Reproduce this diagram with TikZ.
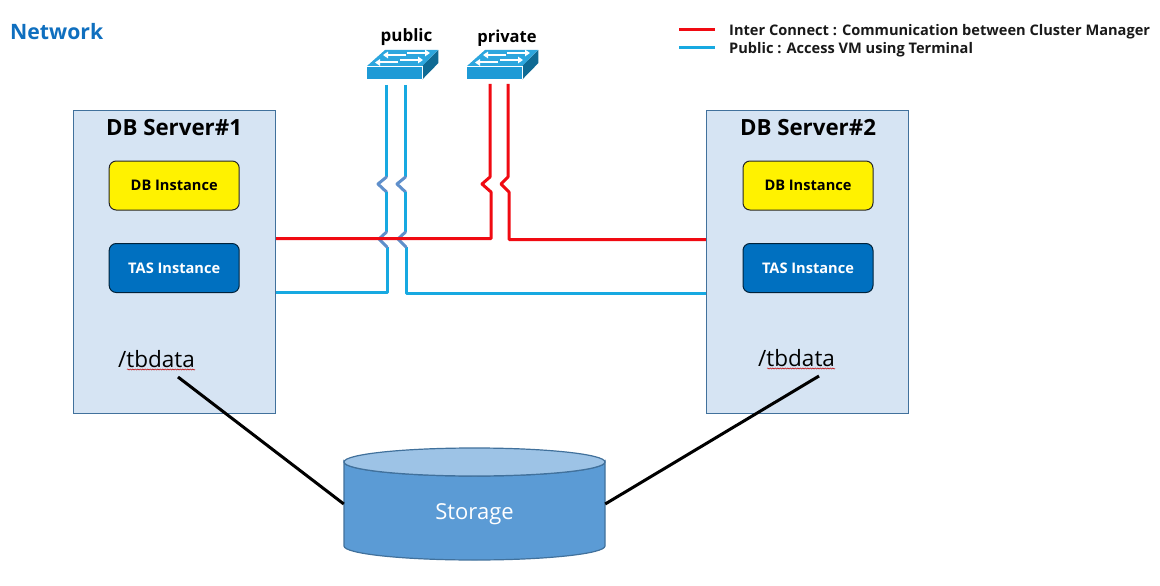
\documentclass[tikz,border=0pt]{standalone}
\usepackage{fontspec}
\setmainfont{Open Sans}
\usetikzlibrary{arrows.meta,decorations.pathmorphing}
\definecolor{srvfill}{HTML}{D6E4F3}
\definecolor{srvline}{HTML}{41719C}
\definecolor{netblue}{HTML}{0F6FBF}
\definecolor{wireblue}{HTML}{17A9E1}
\definecolor{jogblue}{HTML}{5F8FCB}
\definecolor{wirered}{HTML}{F00A12}
\definecolor{tasblue}{HTML}{0070C0}
\definecolor{cylbody}{HTML}{5B9BD5}
\definecolor{cyltop}{HTML}{9DC3E6}
\definecolor{swfront}{HTML}{1E9AD6}
\definecolor{swtop}{HTML}{2CA6DE}
\definecolor{swside}{HTML}{0F6A94}
\newcommand{\fs}[1]{\fontsize{#1}{#1}\selectfont}
\tikzset{
  server/.style={draw=srvline,fill=srvfill,line width=1.4pt,minimum width=202pt,minimum height=303pt,inner sep=0pt},
  srvtitle/.style={font=\fs{22.3}\bfseries,inner sep=0pt,anchor=center},
  inst/.style={draw=black!85,rounded corners=7pt,line width=1pt,minimum width=130pt,minimum height=49pt,inner sep=0pt,font=\fs{14.6}\bfseries},
  dbinst/.style={inst,fill=yellow,text=black},
  tasinst/.style={inst,fill=tasblue,text=white,draw=black!70!tasblue},
  swlabel/.style={font=\fs{17}\bfseries,inner sep=0pt},
  swfrontst/.style={fill=swfront,draw=none,minimum width=55pt,minimum height=13pt,inner sep=0pt},
  legend/.style={font=\fs{14.6}\bfseries,anchor=west,inner sep=0pt,text=black!90},
  bluew/.style={draw=wireblue,line width=3pt,line join=round},
  jogw/.style={draw=jogblue,line width=3pt,line join=round,line cap=round},
  redw/.style={draw=wirered,line width=3pt,line join=round},
  linkw/.style={draw=black,line width=3pt},
  swarrow/.style={draw=white,line width=2pt,-{Triangle[length=5pt,width=6.5pt]}},
  squiggle/.style={draw=red!75!black,line width=.5pt,decorate,decoration={snake,amplitude=.6pt,segment length=2.5pt}},
  tbtext/.style={font=\fs{22.5},inner sep=0pt,anchor=west}
}
\newcommand{\switchicon}[2]{%
  % #1 name, #2 left x of the front face
  \node[swfrontst,anchor=north west] (#1) at (#2,66) {};
  \fill[swtop] (#1.north west) -- ++(18,-16) -- ++(53,0) -- (#1.north east) -- cycle;
  \fill[swside] (#1.north east) -- ++(16,-16) -- ++(0,13) -- (#1.south east) -- cycle;
  \draw[white,line width=.5pt] (#1.north west) -- (#1.north east) -- (#1.south east);
  \draw[swarrow] ([shift={(39,-11)}]#1.north west) -- ++(-23,0);
  \draw[swarrow] ([shift={(40,-13)}]#1.north west) -- ++(23,0);
  \draw[swarrow] ([shift={(31,-3.5)}]#1.north west) -- ++(-23,0);
  \draw[swarrow] ([shift={(33,-6)}]#1.north west) -- ++(23,0);
}
\begin{document}
\begin{tikzpicture}[x=1pt,y=-1pt]
\useasboundingbox (0,0) rectangle (1160,586);
\fill[white] (0,0) rectangle (1160,586);

\node[font=\fs{21.2}\bfseries,text=netblue,anchor=west,inner sep=0pt] (nettitle) at (10,32) {Network};

% Servers
\node[server,anchor=north west] (db1) at (72.7,109.5) {};
\node[server,anchor=north west] (db2) at (705.8,109.5) {};
\node[srvtitle] (db1t) at (174,128) {DB Server\#1};
\node[srvtitle] (db2t) at (808,128) {DB Server\#2};
\node[dbinst,anchor=north west] (db1i) at (108.7,160.5) {DB Instance};
\node[tasinst,anchor=north west] (tas1) at (108.7,243) {TAS Instance};
\node[dbinst,anchor=north west] (db2i) at (742.5,160.5) {DB Instance};
\node[tasinst,anchor=north west] (tas2) at (742.5,243) {TAS Instance};
\node[tbtext] (tb1) at (118,359) {/tbdata};
\node[tbtext] (tb2) at (758,358) {/tbdata};
\draw[squiggle] (127,369.5) -- (195,369.5);
\draw[squiggle] (767,368.5) -- (835,368.5);

% Switches
\switchicon{swpub}{367}
\switchicon{swpri}{467}
\node[swlabel] (publ) at (406.5,37) {public};
\node[swlabel,font=\fs{16.5}\bfseries] (pril) at (507,38) {private};

% Wire ends
\coordinate (pa) at (386.5,85);
\coordinate (pb) at (405.5,85);
\coordinate (ra) at (490,84);
\coordinate (rb) at (508,84);

% Blue wires
\draw[bluew] (pa) -- ++(0,92);
\draw[jogw] (386.5,177) -- (378,184) -- (386.5,192);
\draw[bluew] (386.5,192) -- (386.5,232);
\draw[bluew] (387,247) -- (387,292.5) -- (db1.east |- 0,292.5);
\draw[bluew] (pb) -- ++(0,92);
\draw[jogw] (405.5,177) -- (397,184) -- (405.5,192);
\draw[bluew] (405.5,192) -- (405.5,232);
\draw[bluew] (406,247) -- (406,293.5) -- (db2.west |- 0,293.5);
\draw[jogw] (386.5,232) -- (379,239) -- (387,247);
\draw[jogw] (405.5,232) -- (398,239) -- (406,247);

% Red wires
\draw[redw] (db1.east |- 0,238.5) -- (491,238.5) -- (491,192) -- (482,184) -- (490,177) -- (ra);
\draw[redw] (db2.west |- 0,239.5) -- (509,239.5) -- (509,192) -- (501,184) -- (508,177) -- (rb);

% Storage
\node[minimum width=261pt,minimum height=112pt,inner sep=0pt] (storage) at (474.5,504) {};
\draw[srvline,line width=1.2pt,fill=cylbody]
  (344,462) -- (344,546) arc[start angle=180,end angle=360,x radius=130.5,y radius=-14]
  -- (605,462) arc[start angle=0,end angle=180,x radius=130.5,y radius=14] -- cycle;
\draw[srvline,line width=1.2pt,fill=cyltop] (474.5,462) ellipse[x radius=130.5,y radius=14];
\node[font=\fs{22},text=white,inner sep=0pt] at (474.5,514) {Storage};

% Links to storage
\coordinate (tb1end) at (178,377);
\coordinate (tb2end) at (819,376);
\draw[linkw] (tb1end) -- (storage.west);
\draw[linkw] (tb2end) -- (storage.east);

% Legend
\coordinate (la) at (679,30);
\coordinate (lb) at (715,30);
\coordinate (lc) at (679,48);
\coordinate (ld) at (715,48);
\draw[redw] (la) -- (lb);
\draw[bluew] (lc) -- (ld);
\node[legend] (leg1) at (729,32) {Inter Connect : Communication between Cluster Manager};
\node[legend] (leg2) at (729,50) {Public : Access VM using Terminal};
\end{tikzpicture}
\end{document}
